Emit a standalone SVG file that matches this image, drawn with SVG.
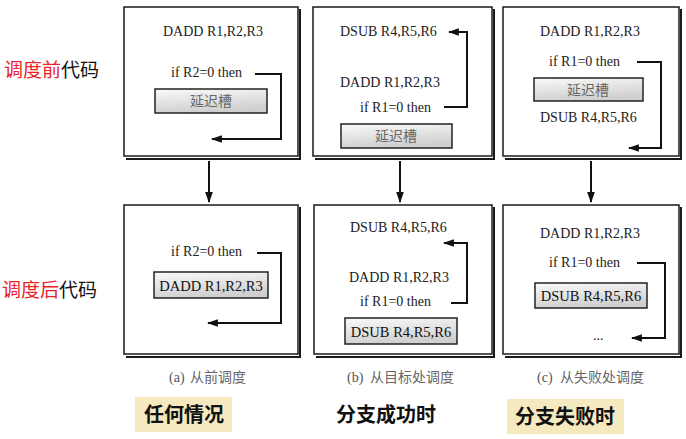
<svg xmlns="http://www.w3.org/2000/svg" width="686" height="439" viewBox="0 0 686 439">
<style>
.frame{fill:#fff;stroke:#1a1a1a;stroke-width:1.5}
.shadow{fill:none;stroke:#1a1a1a;stroke-width:2}
.code{font-family:"Liberation Serif","Times New Roman",serif;font-size:14px;fill:#222}
.slot{fill:url(#g);stroke:#222;stroke-width:1.5}
.slottxt{font-family:"Noto Sans CJK SC",sans-serif;font-size:14px;fill:#666;text-anchor:middle}
.slotcode{font-family:"Liberation Serif","Times New Roman",serif;font-size:14.5px;fill:#111;text-anchor:middle}
.line{fill:none;stroke:#111;stroke-width:2}
.side{font-family:"Noto Sans CJK SC",sans-serif;font-size:19px}
.cap{font-family:"Liberation Serif",serif;font-size:14px;fill:#555}
.capc{font-family:"Noto Sans CJK SC",sans-serif;font-size:14px;fill:#666}
.big{font-family:"Noto Sans CJK SC",sans-serif;font-size:20px;font-weight:bold;fill:#111;text-anchor:middle}
.hl{fill:#f5e9c0}
</style>
<defs>
<linearGradient id="g" x1="0" y1="0" x2="0.3" y2="1">
<stop offset="0" stop-color="#fafafa"/>
<stop offset="1" stop-color="#cfcfcf"/>
</linearGradient>
<marker id="ah" viewBox="0 0 10 10" refX="9" refY="5" markerWidth="5.5" markerHeight="5.5" orient="auto-start-reverse" markerUnits="strokeWidth">
<path d="M0,1.5 L10,5 L0,8.5 Z" fill="#111"/>
</marker>
</defs>

<g id="label-before">
<text class="side" x="4" y="77"><tspan fill="#e8232a">调度前</tspan><tspan fill="#111">代码</tspan></text>
</g>
<g id="label-after">
<text class="side" x="2" y="297"><tspan fill="#e8232a">调度后</tspan><tspan fill="#111">代码</tspan></text>
</g>

<g id="box-a-before">
<rect class="frame" x="124" y="7" width="174" height="149"/>
<path class="shadow" d="M126,159 H300 V9"/>
<text class="code" x="163" y="36">DADD R1,R2,R3</text>
<text class="code" x="171" y="77">if R2=0 then</text>
<rect class="slot" x="155" y="89" width="112" height="24"/>
<text class="slottxt" x="211" y="106">延迟槽</text>
</g>

<g id="box-b-before">
<rect class="frame" x="313" y="7" width="179" height="149"/>
<path class="shadow" d="M315,159 H494 V9"/>
<text class="code" x="340" y="36">DSUB R4,R5,R6</text>
<text class="code" x="340" y="87">DADD R1,R2,R3</text>
<text class="code" x="360" y="112">if R1=0 then</text>
<rect class="slot" x="341" y="124" width="111" height="24"/>
<text class="slottxt" x="396" y="141">延迟槽</text>
</g>

<g id="box-c-before">
<rect class="frame" x="503" y="7" width="176" height="149"/>
<path class="shadow" d="M505,159 H681 V9"/>
<text class="code" x="540" y="36">DADD R1,R2,R3</text>
<text class="code" x="549" y="66">if R1=0 then</text>
<rect class="slot" x="534" y="78" width="109" height="23"/>
<text class="slottxt" x="588" y="95">延迟槽</text>
<text class="code" x="540" y="122">DSUB R4,R5,R6</text>
</g>

<g id="box-a-after">
<rect class="frame" x="124" y="205" width="174" height="149"/>
<path class="shadow" d="M126,357 H300 V207"/>
<text class="code" x="171" y="256">if R2=0 then</text>
<rect class="slot" x="154" y="272" width="114" height="26"/>
<text class="slotcode" x="211" y="291">DADD R1,R2,R3</text>
</g>

<g id="box-b-after">
<rect class="frame" x="314" y="205" width="178" height="149"/>
<path class="shadow" d="M316,357 H494 V207"/>
<text class="code" x="350" y="232">DSUB R4,R5,R6</text>
<text class="code" x="349" y="282">DADD R1,R2,R3</text>
<text class="code" x="360" y="306">if R1=0 then</text>
<rect class="slot" x="345" y="318" width="112" height="26"/>
<text class="slotcode" x="401" y="337">DSUB R4,R5,R6</text>
</g>

<g id="box-c-after">
<rect class="frame" x="503" y="205" width="176" height="149"/>
<path class="shadow" d="M505,357 H681 V207"/>
<text class="code" x="540" y="238">DADD R1,R2,R3</text>
<text class="code" x="549" y="267">if R1=0 then</text>
<rect class="slot" x="535" y="283" width="112" height="25"/>
<text class="slotcode" x="591" y="301">DSUB R4,R5,R6</text>
<text class="code" x="593" y="340">...</text>
</g>

<g id="connectors">
<path class="line" d="M255,74 H281 V139 H212" marker-end="url(#ah)"/>
<path class="line" d="M444,107 H467 V32 H449" marker-end="url(#ah)"/>
<path class="line" d="M637,62 H661 V148 H629" marker-end="url(#ah)"/>
<path class="line" d="M257,253 H281 V323 H208" marker-end="url(#ah)"/>
<path class="line" d="M451,303 H467 V243 H444" marker-end="url(#ah)"/>
<path class="line" d="M637,263 H665 V338 H632" marker-end="url(#ah)"/>
<path class="line" d="M209,161 V202" marker-end="url(#ah)"/>
<path class="line" d="M400,161 V202" marker-end="url(#ah)"/>
<path class="line" d="M591,161 V202" marker-end="url(#ah)"/>
</g>

<g id="captions">
<text class="cap" x="169" y="382">(a)</text>
<text class="capc" x="190" y="382">从前调度</text>
<text class="cap" x="347" y="382">(b)</text>
<text class="capc" x="370" y="382">从目标处调度</text>
<text class="cap" x="537" y="382">(c)</text>
<text class="capc" x="560" y="382">从失败处调度</text>
</g>

<g id="case-any">
<rect class="hl" x="135" y="397" width="97" height="35"/>
<text class="big" x="184" y="422">任何情况</text>
</g>
<g id="case-taken">
<text class="big" x="386" y="422">分支成功时</text>
</g>
<g id="case-not-taken">
<rect class="hl" x="507" y="399" width="117" height="35"/>
<text class="big" x="565" y="424">分支失败时</text>
</g>
</svg>
